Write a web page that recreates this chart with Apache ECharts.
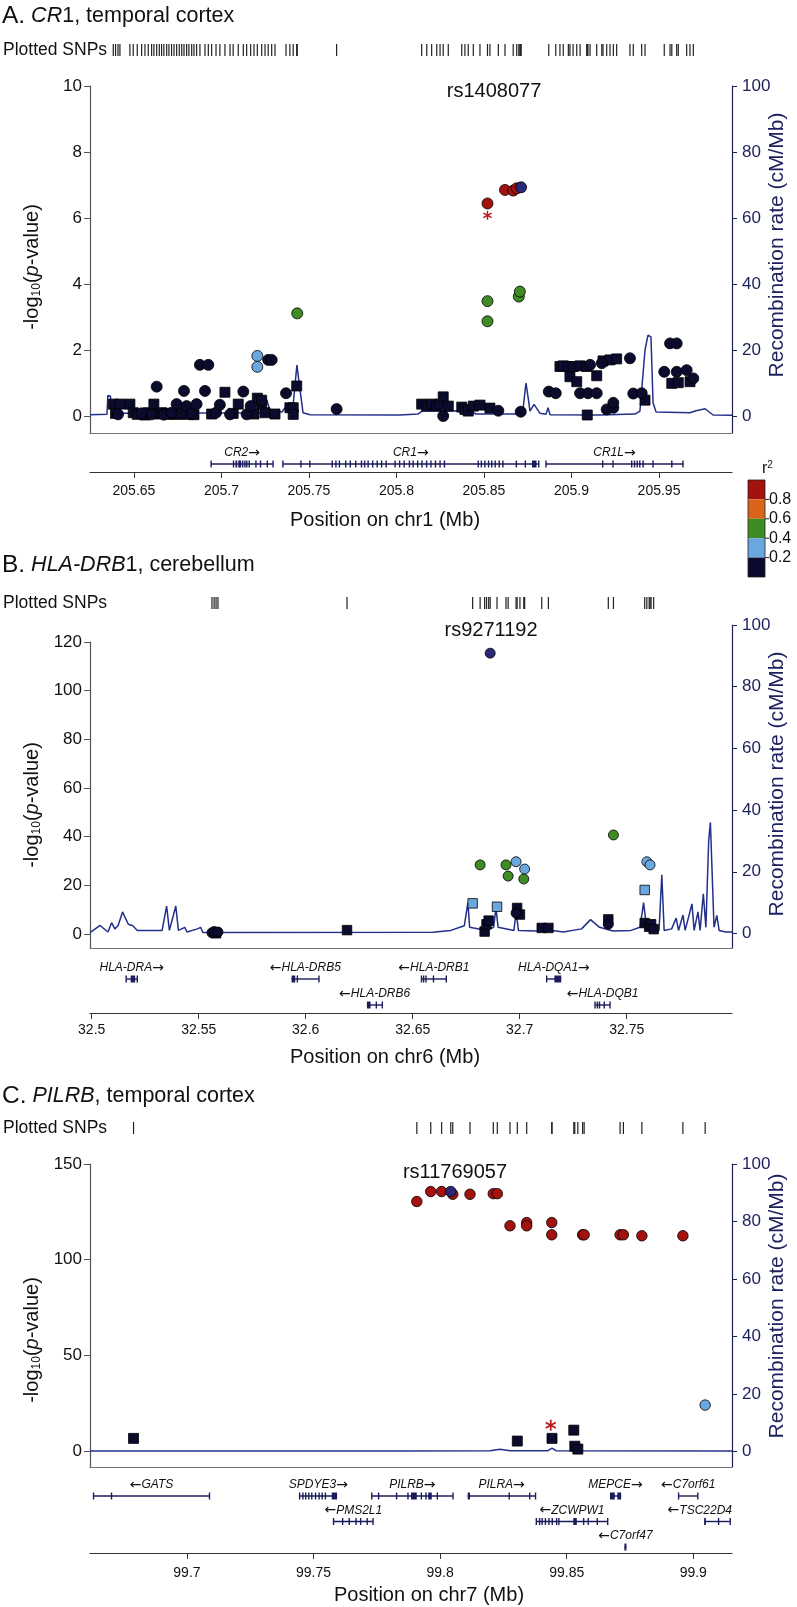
<!DOCTYPE html>
<html><head><meta charset="utf-8">
<script src="https://cdn.jsdelivr.net/npm/echarts@6/dist/echarts.min.js"></script>
<style>html,body{margin:0;padding:0;background:#fff}#c{width:797px;height:1607px}</style>
</head><body><div id="c"></div>
<script>
// ---------------- DATA ----------------
// Panel A: CR1, temporal cortex (chr1, Mb)
const posA = [205.6382,205.6395,205.6409,205.6420,205.6477,205.6496,205.6519,205.6544,205.6563,205.6582,205.6601,205.6614,205.6630,205.6645,205.6658,205.6671,205.6687,205.6700,205.6715,205.6729,205.6744,205.6759,205.6773,205.6786,205.6801,205.6814,205.6830,205.6843,205.6858,205.6877,205.6906,205.6925,205.6944,205.6969,205.6991,205.7020,205.7049,205.7067,205.7096,205.7125,205.7144,205.7167,205.7186,205.7205,205.7205,205.7205,205.7230,205.7230,205.7249,205.7267,205.7287,205.7306,205.7369,205.7391,205.7410,205.7410,205.7430,205.7433,205.7658,
205.8144,205.8173,205.8201,205.8230,205.8249,205.8267,205.8267,205.8296,205.8373,205.8391,205.8410,205.8439,205.8477,205.8520,205.8520,205.8520,205.8534,205.8582,205.8620,205.8667,205.8687,205.8699,205.8705,205.8710,
205.8870,205.8910,205.8934,205.8953,205.8982,205.8991,205.9009,205.9030,205.9049,205.9049,205.9087,205.9090,205.9094,205.9106,205.9144,205.9144,205.9173,205.9180,205.9201,205.9220,205.9239,205.9239,205.9258,205.9334,205.9353,205.9401,205.9420,205.9530,205.9563,205.9573,205.9601,205.9601,205.9610,205.9658,205.9677,205.9696];
const logpA = [0.36,0.08,0.05,0.36,0.36,0.10,0.05,0.08,0.03,0.10,0.05,0.36,0.89,0.06,0.10,0.04,0.08,0.05,0.10,0.06,0.36,0.05,0.08,0.76,0.30,0.05,0.08,0.04,0.36,1.55,0.76,1.55,0.06,0.10,0.34,0.72,0.05,0.08,0.36,0.74,0.05,0.30,0.06,1.82,1.49,0.54,0.36,0.48,0.10,1.70,1.70,0.06,0.69,0.25,0.25,0.05,0.91,3.11,0.21,
0.36,0.30,0.36,0.30,0.36,0.58,0.00,0.30,0.27,0.20,0.15,0.30,0.33,6.44,3.48,2.87,0.24,0.16,6.85,6.83,6.90,3.62,3.77,0.13,
0.74,0.69,1.50,1.52,1.50,1.19,1.50,1.04,1.52,0.69,1.50,0.03,0.69,1.55,1.22,0.69,1.60,1.67,0.20,1.70,0.25,0.40,1.73,1.75,0.68,0.69,0.48,1.34,2.20,0.99,2.20,1.34,1.01,1.39,1.04,1.14];
const r2A = [0.1,0.1,0.1,0.1,0.1,0.1,0.1,0.1,0.1,0.1,0.1,0.1,0.1,0.1,0.1,0.1,0.1,0.1,0.1,0.1,0.1,0.1,0.1,0.1,0.1,0.1,0.1,0.1,0.1,0.1,0.1,0.1,0.1,0.1,0.1,0.1,0.1,0.1,0.1,0.1,0.1,0.1,0.1,0.3,0.3,0.1,0.1,0.1,0.1,0.1,0.1,0.1,0.1,0.1,0.1,0.1,0.1,0.5,0.1,
0.1,0.1,0.1,0.1,0.1,0.1,0.1,0.1,0.1,0.1,0.1,0.1,0.1,0.9,0.5,0.5,0.1,0.1,0.9,0.9,0.9,0.5,0.5,0.1,
0.1,0.1,0.1,0.1,0.1,0.1,0.1,0.1,0.1,0.1,0.1,0.1,0.1,0.1,0.1,0.1,0.1,0.1,0.1,0.1,0.1,0.1,0.1,0.1,0.1,0.1,0.1,0.1,0.1,0.1,0.1,0.1,0.1,0.1,0.1,0.1];
const shapeA = [1,1,0,1,1,1,1,0,1,1,0,1,0,1,1,0,1,1,0,1,0,1,0,0,0,1,0,1,0,0,0,0,1,0,0,1,0,1,1,0,0,0,1,0,0,1,1,1,1,0,0,1,0,1,1,1,1,0,0,
1,1,1,1,1,1,0,1,1,1,1,1,1,0,0,0,1,0,0,0,0,0,0,0,
0,0,1,1,1,1,1,1,1,0,1,1,0,0,1,0,0,1,0,1,0,0,1,0,0,0,1,0,0,1,0,0,1,0,1,0];
const leadA = [205.8712, 6.93];
const starA = [205.8520, 6.08];
const recPosA = [205.6249,205.6346,205.6351,205.6366,205.6374,205.6477,205.6877,205.7220,205.7243,205.7260,205.7277,205.7346,205.7363,205.7380,205.7409,205.7431,205.7449,205.7466,205.7506,205.8020,205.8123,205.8146,205.8420,205.8454,205.8706,205.8723,205.8740,205.8751,205.8763,205.8786,205.8820,205.8854,205.8866,205.8877,205.9163,205.9363,205.9391,205.9420,205.9437,205.9454,205.9466,205.9483,205.9677,205.9706,205.9763,205.9809,205.9917];
const recRateA = [0.4,0.5,6.2,6.0,0.8,0.8,0.9,1.0,3.0,4.8,1.5,1.2,2.5,1.5,3.0,15.4,8.0,1.0,0.4,0.3,0.6,1.5,1.6,0.6,0.6,2.0,10.0,6.0,1.5,3.5,0.8,0.5,2.5,0.4,0.3,0.6,1.5,20.0,24.5,24.0,4.0,1.2,1.0,1.5,2.2,0.3,0.2];
const geneNameA = ['CR2','CR1','CR1L'];
const geneStrandA = [1,1,1];
const geneStartA = [205.6941,205.7351,205.8854];
const geneEndA = [205.7295,205.8813,205.9637];
const geneRowA = [0,0,0];
const geneExonA = [
 [205.6941,[205.7066,205.7072],[205.7080,205.7090],[205.7096,205.7112],[205.7118,205.7124],205.7134,205.7145,205.7159,205.7197,205.7223,205.7262,205.7295],
 [205.7351,205.7454,205.7505,205.7633,205.7654,205.7674,205.7710,205.7736,205.7767,205.7800,205.7818,205.7838,205.7864,205.7890,205.7915,205.7941,205.7992,205.8018,205.8044,205.8074,205.8095,205.8121,205.8146,205.8172,205.8197,205.8223,205.8249,205.8274,205.8467,205.8485,205.8505,205.8526,205.8544,205.8564,205.8587,205.8608,205.8685,205.8736,[205.8774,205.8800],205.8813],
 [205.8854,[205.9175,205.9182],205.9237,205.9344,205.9360,205.9375,205.9390,205.9409,205.9466,205.9573,205.9637]];
const xTicksA = [205.65,205.7,205.75,205.8,205.85,205.9,205.95];
const yTicksA = [0,2,4,6,8,10];

// Panel B: HLA-DRB1, cerebellum (chr6, Mb)
const posB = [32.5562,32.5572,32.5581,32.5590,32.6193,32.6780,32.6815,32.6836,32.6845,32.6855,32.6894,32.6936,32.6946,32.6983,32.6983,32.6988,32.7001,32.7019,32.7023,32.7103,32.7134,32.7414,32.7414,32.7438,32.7584,32.7584,32.7594,32.7605,32.7609,32.7614,32.7626];
const logpB = [0.5,1.0,0.3,0.8,1.6,12.6,28.4,1.0,4.0,5.5,11.2,28.4,23.8,29.7,8.6,10.7,8.0,22.6,26.7,2.5,2.5,4.0,6.0,40.7,18.1,4.5,29.7,3.0,28.4,4.0,2.0];
const r2B = [0.1,0.1,0.1,0.1,0.1,0.3,0.5,0.1,0.1,0.1,0.3,0.5,0.5,0.3,0.1,0.1,0.1,0.5,0.3,0.1,0.1,0.1,0.1,0.5,0.3,0.1,0.3,0.1,0.3,0.1,0.1];
const shapeB = [0,0,1,0,1,1,0,1,1,1,1,0,0,0,0,1,1,0,0,1,1,0,1,0,1,1,0,1,0,1,1];
const leadB = [32.6862, 115.4];
const recPosB = [32.4992,32.5039,32.5076,32.5093,32.5108,32.5123,32.5144,32.5171,32.5192,32.5213,32.5329,32.5350,32.5363,32.5393,32.5405,32.5435,32.5445,32.5494,32.5509,32.5519,32.6593,32.6678,32.6741,32.6758,32.6766,32.6846,32.6878,32.6889,32.6899,32.6973,32.6983,32.6994,32.7078,32.7120,32.7152,32.7204,32.7289,32.7331,32.7373,32.7436,32.7520,32.7562,32.7579,32.7594,32.7651,32.7664,32.7675,32.7710,32.7731,32.7742,32.7763,32.7773,32.7805,32.7815,32.7833,32.7843,32.7858,32.7870,32.7883,32.7891,32.7900,32.7908,32.7921,32.7932,32.7963,32.7992];
const recRateB = [0.3,2.6,0.5,3.5,1.5,2.5,7.0,3.0,2.5,1.0,1.0,8.9,1.0,8.9,1.0,2.0,0.5,1.5,2.0,0.3,0.4,1.0,2.5,10.0,2.0,1.0,2.0,8.3,2.0,1.0,7.0,1.0,0.8,2.0,1.0,0.5,1.5,4.5,2.0,0.8,1.0,2.0,10.0,1.0,1.0,19.0,1.0,1.5,5.0,1.0,6.0,1.0,9.6,1.0,7.0,1.0,12.9,2.0,30.0,36.0,36.0,2.0,5.9,1.0,0.5,0.5];
const geneNameB = ['HLA-DRA','HLA-DRB5','HLA-DRB6','HLA-DRB1','HLA-DQA1','HLA-DQB1'];
const geneStrandB = [1,-1,-1,-1,1,-1];
const geneStartB = [32.5161,32.5934,32.6286,32.6541,32.7126,32.7352];
const geneEndB = [32.5213,32.6062,32.6358,32.6657,32.7194,32.7422];
const geneRowB = [0,0,1,0,0,1];
const geneExonB = [[32.5161,[32.5182,32.5203],32.5213],[[32.5934,32.5951],32.5961,32.6062],[[32.6286,32.6303],32.6330,32.6358],[32.6541,32.6551,32.6562,32.6597,32.6657],[32.7126,[32.7162,32.7194]],[32.7352,32.7363,32.7373,32.7395,32.7422]];
const xTicksB = [32.5,32.55,32.6,32.65,32.7,32.75];
const yTicksB = [0,20,40,60,80,100,120];

// Panel C: PILRB, temporal cortex (chr7, Mb)
const posC = [99.6789,99.7908,99.7963,99.8006,99.8050,99.8118,99.8210,99.8226,99.8276,99.8305,99.8342,99.8342,99.8441,99.8441,99.8442,99.8528,99.8532,99.8544,99.8563,99.8569,99.8711,99.8724,99.8797,99.8959,99.9047];
const logpC = [6.6,130.4,135.6,135.6,134.2,134.2,134.5,134.5,117.7,5.2,119.4,117.7,119.4,113.0,6.6,10.9,2.5,1.0,113.0,113.0,113.0,113.0,112.5,112.5,24.0];
const r2C = [0.1,0.9,0.9,0.9,0.9,0.9,0.9,0.9,0.9,0.1,0.9,0.9,0.9,0.9,0.1,0.1,0.1,0.1,0.9,0.9,0.9,0.9,0.9,0.9,0.3];
const shapeC = [1,0,0,0,0,0,0,0,0,1,0,0,0,0,1,1,1,1,0,0,0,0,0,0,0];
const leadC = [99.8042, 135.6];
const starC = [99.8437, 13.5];
const recPosC = [99.6617,99.7842,99.8197,99.8237,99.8276,99.8426,99.8442,99.8458,99.9153];
const recRateC = [0.2,0.2,0.3,0.8,0.3,0.3,1.2,0.3,0.2];
const geneNameC = ['GATS','SPDYE3','PILRB','PILRA','MEPCE','C7orf61','PMS2L1','ZCWPW1','TSC22D4','C7orf47'];
const geneStrandC = [-1,1,1,1,1,-1,-1,-1,-1,-1];
const geneStartC = [99.6631,99.7445,99.7730,99.8109,99.8671,99.8942,99.7579,99.8380,99.9043,99.8728];
const geneEndC = [99.7089,99.7593,99.8051,99.8377,99.8715,99.9018,99.7735,99.8662,99.9146,99.8736];
const geneRowC = [0,0,0,0,0,0,1,1,1,2];
const geneExonC = [
 [99.6631,99.6702,99.7089],
 [99.7445,99.7458,99.7469,99.7481,99.7493,99.7508,99.7522,99.7534,99.7547,[99.7572,99.7593]],
 [99.7730,99.7757,99.7828,99.7873,[99.7885,99.7908],99.7926,99.7944,[99.7953,99.7967],99.7989,99.8051],
 [[99.8109,99.8118],99.8273,99.8354,99.8377],
 [[99.8671,99.8690],[99.8700,99.8715]],
 [99.8942,99.9018],
 [99.7579,99.7615,99.7641,99.7668,99.7686,99.7712,99.7735],
 [99.8380,99.8393,99.8403,99.8416,99.8430,99.8443,99.8460,99.8469,[99.8526,99.8540],99.8567,99.8585,99.8621,99.8662],
 [[99.9043,99.9050],99.9100,99.9146],
 [[99.8728,99.8736]]];
const xTicksC = [99.7,99.75,99.8,99.85,99.9];
const yTicksC = [0,50,100,150];

const rateTicks = [0,20,40,60,80,100];
const r2Breaks = [0.2,0.4,0.6,0.8];
const r2Labels = ['0.8','0.6','0.4','0.2'];

// ---------------- STYLE ----------------
const FONT = '"Liberation Sans", Arial, Helvetica, sans-serif';
const ARROW_FONT = '"DejaVu Sans", sans-serif';
const R2_COLORS = ['#0b0b2e','#6aa7de','#3f8b24','#d9651a','#a3120f'];
const LEAD_COLOR = '#2c2878';
const STAR_COLOR = '#c01820';
const NAVY = '#1b1f5e';
const REC = '#22308a';
const GENE = '#1c1c5c';
const STAR_PATH = 'path://M-1.5,-10L1.5,-10L1.5,10L-1.5,10Z M7.91,-6.3L9.41,-3.7L-7.91,6.3L-9.41,3.7Z M-9.41,-3.7L-7.91,-6.3L9.41,3.7L7.91,6.3Z';

function r2color(r){ let i=0; while(i<r2Breaks.length && r>=r2Breaks[i]) i++; return R2_COLORS[i]; }
const mctx = document.createElement('canvas').getContext('2d');
function textW(s, font){ mctx.font = font; return mctx.measureText(s).width; }

const option = { animation:false, backgroundColor:'#fff', grid:[], xAxis:[], yAxis:[], series:[], graphic:[] };

function addPanel(L, D){
  const g = option.grid.length;
  const gridBase = {left:90, width:642};
  // 0: SNP rug row
  option.grid.push(Object.assign({top:L.snpTop, height:L.snpH}, gridBase));
  option.xAxis.push({gridIndex:g, type:'value', min:L.xMin, max:L.xMax, show:false});
  option.yAxis.push({gridIndex:g, type:'value', min:-1, max:1, show:false});
  // 1: main association plot
  option.grid.push(Object.assign({top:L.mainTop, height:L.bottom-L.mainTop}, gridBase));
  option.xAxis.push({gridIndex:g+1, type:'value', min:L.xMin, max:L.xMax,
    axisLine:{show:true, onZero:false, lineStyle:{color:'#777', width:1.2}}, axisTick:{show:false}, axisLabel:{show:false}, splitLine:{show:false}});
  option.yAxis.push({gridIndex:g+1, type:'value', position:'left', min:L.leftMin, max:L.leftMax,
    axisLine:{show:true, onZero:false, lineStyle:{color:'#555', width:1.2}},
    axisTick:{show:true, length:6, customValues:L.yTicks, lineStyle:{color:'#555'}},
    axisLabel:{customValues:L.yTicks, fontSize:17, fontFamily:FONT, color:'#111', margin:8},
    splitLine:{show:false}});
  // 2: recombination rate
  option.grid.push(Object.assign({top:L.recTop, height:L.bottom-L.recTop}, gridBase));
  option.xAxis.push({gridIndex:g+2, type:'value', min:L.xMin, max:L.xMax, show:false});
  option.yAxis.push({gridIndex:g+2, type:'value', position:'right', min:L.rightMin, max:100,
    axisLine:{show:true, onZero:false, lineStyle:{color:NAVY, width:1.2}},
    axisTick:{show:true, length:5, customValues:rateTicks, lineStyle:{color:NAVY}},
    axisLabel:{customValues:rateTicks, fontSize:17, fontFamily:FONT, color:NAVY, margin:10},
    splitLine:{show:false}});
  // 3: gene track + position axis
  option.grid.push(Object.assign({top:L.geneTop, height:L.geneBottom-L.geneTop}, gridBase));
  option.xAxis.push({gridIndex:g+3, type:'value', position:'bottom', min:L.xMin, max:L.xMax,
    axisLine:{show:true, onZero:false, lineStyle:{color:'#333', width:1.2}},
    axisTick:{show:true, length:6, customValues:L.xTicks, lineStyle:{color:'#333'}},
    axisLabel:{customValues:L.xTicks, formatter:v=>String(+v.toFixed(3)), fontSize:14, fontFamily:FONT, color:'#111', margin:L.xLabMargin},
    splitLine:{show:false}});
  option.yAxis.push({gridIndex:g+3, type:'value', inverse:true, min:L.rowMin, max:L.rowMax, show:false});

  // SNP rug
  const allPos = Array.from(new Set(D.pos.concat([D.lead[0]])));
  option.series.push({type:'scatter', xAxisIndex:g, yAxisIndex:g, silent:true, symbol:'rect', symbolSize:[1.2, L.snpH],
    itemStyle:{color:'#222', opacity:1}, data:allPos.map(p=>[p,0]), z:2});
  // recombination line
  option.series.push({type:'line', xAxisIndex:g+2, yAxisIndex:g+2, silent:true, showSymbol:false, symbol:'none',
    lineStyle:{color:REC, width:1.5}, data:D.recPos.map((p,i)=>[p, D.recRate[i]]), z:2});
  // points
  const idx = D.pos.map((p,i)=>i).sort((a,b)=>D.r2[a]-D.r2[b]);
  const mk = want => idx.filter(i=>D.shape[i]===want).map(i=>({value:[D.pos[i], D.logp[i]], itemStyle:{color:r2color(D.r2[i])}}));
  option.series.push({type:'scatter', xAxisIndex:g+1, yAxisIndex:g+1, silent:true, symbol:'rect', symbolSize:L.sqSize,
    itemStyle:{borderColor:'#000', borderWidth:0.8, opacity:1}, data:mk(1), z:3});
  option.series.push({type:'scatter', xAxisIndex:g+1, yAxisIndex:g+1, silent:true, symbol:'circle', symbolSize:L.ptSize,
    itemStyle:{borderColor:'#000', borderWidth:0.8, opacity:1}, data:mk(0), z:4});
  option.series.push({type:'scatter', xAxisIndex:g+1, yAxisIndex:g+1, silent:true, symbol:'circle', symbolSize:L.ptSize,
    itemStyle:{color:LEAD_COLOR, borderColor:'#000', borderWidth:0.8, opacity:1}, data:[D.lead], z:5});
  if (D.star) option.series.push({type:'scatter', xAxisIndex:g+1, yAxisIndex:g+1, silent:true, symbol:STAR_PATH, symbolSize:L.starSize,
    itemStyle:{color:STAR_COLOR, opacity:1}, data:[D.star], z:6});
  // genes
  const gfont = 'italic 12px ' + FONT;
  const afont = '14px ' + ARROW_FONT;
  const grich = {n:{fontStyle:'italic', fontSize:12, fontFamily:FONT, fill:'#111'}, a:{fontSize:14, fontFamily:ARROW_FONT, fill:'#111'}};
  option.series.push({type:'custom', xAxisIndex:g+3, yAxisIndex:g+3, silent:true, z:2,
    encode:{x:[0,1], y:2},
    data:D.gName.map((n,i)=>[D.gStart[i], D.gEnd[i], D.gRow[i], i]),
    renderItem:(params, api)=>{
      const i = api.value(3), row = api.value(2);
      const s = api.coord([api.value(0), row]);
      const e = api.coord([api.value(1), row]);
      const cs = params.coordSys;
      const ch = [{type:'line', shape:{x1:s[0], y1:s[1], x2:e[0], y2:e[1]}, style:{stroke:GENE, lineWidth:1.4}}];
      D.gExon[i].forEach(ex=>{
        let x1, x2;
        if (Array.isArray(ex)) { x1 = api.coord([ex[0],row])[0]; x2 = api.coord([ex[1],row])[0]; }
        else { const xc = api.coord([ex,row])[0]; x1 = xc-0.7; x2 = xc+0.7; }
        if (x2-x1 < 1.4) { const m=(x1+x2)/2; x1=m-0.7; x2=m+0.7; }
        ch.push({type:'rect', shape:{x:x1, y:s[1]-3.5, width:x2-x1, height:7}, style:{fill:GENE}});
      });
      const name = D.gName[i];
      const plus = D.gStrand[i] > 0;
      const label = plus ? '{n|' + name + '}{a|\u2192}' : '{a|\u2190}{n|' + name + '}';
      const w = textW(name, gfont) + textW('\u2192', afont);
      let cx = (s[0]+e[0])/2;
      cx = Math.max(cs.x + w/2, Math.min(cs.x + cs.width - w/2, cx));
      ch.push({type:'text', style:{text:label, rich:grich, x:cx, y:s[1]-4, font:gfont, fill:'#111', textAlign:'center', textVerticalAlign:'bottom', align:'center', verticalAlign:'bottom'}});
      return {type:'group', children:ch};
    }});
}

addPanel({xMin:205.6249, xMax:205.9917, xTicks:xTicksA, yTicks:yTicksA,
  snpTop:44, snpH:12, mainTop:86, recTop:86, bottom:433, leftMin:-0.515, leftMax:10, rightMin:-5.15,
  geneTop:445, geneBottom:472, rowMin:-0.7308, rowMax:0.3077, xLabMargin:12, ptSize:11, sqSize:10, starSize:9},
  {pos:posA, logp:logpA, r2:r2A, shape:shapeA, lead:leadA, star:starA, recPos:recPosA, recRate:recRateA,
   gName:geneNameA, gStrand:geneStrandA, gStart:geneStartA, gEnd:geneEndA, gRow:geneRowA, gExon:geneExonA});
addPanel({xMin:32.4992, xMax:32.7992, xTicks:xTicksB, yTicks:yTicksB,
  snpTop:597, snpH:12, mainTop:642, recTop:625, bottom:948, leftMin:-5.75, leftMax:120, rightMin:-4.7,
  geneTop:962, geneBottom:1013, rowMin:-0.6538, rowMax:1.3077, xLabMargin:10, ptSize:10, sqSize:9.5, starSize:9},
  {pos:posB, logp:logpB, r2:r2B, shape:shapeB, lead:leadB, star:null, recPos:recPosB, recRate:recRateB,
   gName:geneNameB, gStrand:geneStrandB, gStart:geneStartB, gEnd:geneEndB, gRow:geneRowB, gExon:geneExonB});
addPanel({xMin:99.6617, xMax:99.9153, xTicks:xTicksC, yTicks:yTicksC,
  snpTop:1122, snpH:12, mainTop:1164, recTop:1164, bottom:1467, leftMin:-8.36, leftMax:150, rightMin:-5.39,
  geneTop:1478, geneBottom:1553, rowMin:-0.7059, rowMax:2.2353, xLabMargin:13, ptSize:10.5, sqSize:10, starSize:11},
  {pos:posC, logp:logpC, r2:r2C, shape:shapeC, lead:leadC, star:starC, recPos:recPosC, recRate:recRateC,
   gName:geneNameC, gStrand:geneStrandC, gStart:geneStartC, gEnd:geneEndC, gRow:geneRowC, gExon:geneExonC});

// ---------------- TEXT ----------------
function T(x, y, text, size, o){
  o = o || {};
  const st = {text:text, fill:o.color||'#111', fontSize:size, fontFamily:FONT, fontStyle:o.italic?'italic':'normal',
    textAlign:o.align||'left', textVerticalAlign:'middle', align:o.align||'left', verticalAlign:'middle'};
  if (o.rich) st.rich = o.rich;
  return {type:'text', x:x, y:y, rotation:o.rot||0, z:20, silent:true, style:st};
}
const titleRich = {
  b:{fontSize:24.5, fontFamily:FONT, fill:'#111', color:'#111'},
  n:{fontSize:21.5, fontFamily:FONT, fill:'#111', color:'#111'},
  i:{fontSize:21.5, fontFamily:FONT, fontStyle:'italic', fill:'#111', color:'#111'}
};
const ylabRich = {
  t:{fontSize:20, fontFamily:FONT, fill:'#111', color:'#111', lineHeight:22},
  s:{fontSize:12, fontFamily:FONT, fill:'#111', color:'#111', verticalAlign:'bottom', lineHeight:22},
  i:{fontSize:20, fontFamily:FONT, fontStyle:'italic', fill:'#111', color:'#111', lineHeight:22}
};
const ylab = '{t|-log}{s|10}{t|(}{i|p}{t|-value)}';
const g = option.graphic;
g.push(T(2, 16, '{b|A.}{n| }{i|CR}{n|1, temporal cortex}', 21.5, {rich:titleRich}));
g.push(T(2, 565, '{b|B.}{n| }{i|HLA-DRB}{n|1, cerebellum}', 21.5, {rich:titleRich}));
g.push(T(2, 1096, '{b|C.}{n| }{i|PILRB}{n|, temporal cortex}', 21.5, {rich:titleRich}));
[50, 603, 1128].forEach(y=>g.push(T(3, y, 'Plotted SNPs', 17.5)));
g.push(T(494, 91, 'rs1408077', 20, {align:'center'}));
g.push(T(491, 630, 'rs9271192', 20, {align:'center'}));
g.push(T(455, 1172, 'rs11769057', 20, {align:'center'}));
g.push(T(385, 520, 'Position on chr1 (Mb)', 20, {align:'center'}));
g.push(T(385, 1057, 'Position on chr6 (Mb)', 20, {align:'center'}));
g.push(T(429, 1595, 'Position on chr7 (Mb)', 20, {align:'center'}));
[267, 805, 1340].forEach(y=>g.push(T(32, y, ylab, 20, {align:'center', rot:Math.PI/2, rich:ylabRich})));
[245, 784, 1306].forEach(y=>g.push(T(777, y, 'Recombination rate (cM/Mb)', 21, {align:'center', rot:Math.PI/2, color:NAVY})));

// r^2 colour key
const keyX = 748, keyY = 480, keyW = 17, keyH = 19.4;
const keyCols = R2_COLORS.slice().reverse();
keyCols.forEach((c,i)=>g.push({type:'rect', z:20, silent:true, shape:{x:keyX, y:keyY+i*keyH, width:keyW, height:keyH}, style:{fill:c}}));
g.push({type:'rect', z:21, silent:true, shape:{x:keyX, y:keyY, width:keyW, height:keyH*5}, style:{fill:'none', stroke:'#222', lineWidth:0.8}});
r2Labels.forEach((t,i)=>{
  const y = keyY + (i+1)*keyH;
  g.push({type:'line', z:21, silent:true, shape:{x1:keyX+keyW, y1:y, x2:keyX+keyW+4, y2:y}, style:{stroke:'#222', lineWidth:1}});
  g.push(T(keyX+keyW+4, y, t, 16));
});
g.push(T(762, 469, '{t|r}{s|2}', 16, {rich:{t:{fontSize:16, fontFamily:FONT, fill:'#111', color:'#111', lineHeight:18}, s:{fontSize:10, fontFamily:FONT, fill:'#111', color:'#111', verticalAlign:'top', lineHeight:18}}}));

const chart = echarts.init(document.getElementById('c'), null, {renderer:'canvas'});
chart.setOption(option);
</script></body></html>
